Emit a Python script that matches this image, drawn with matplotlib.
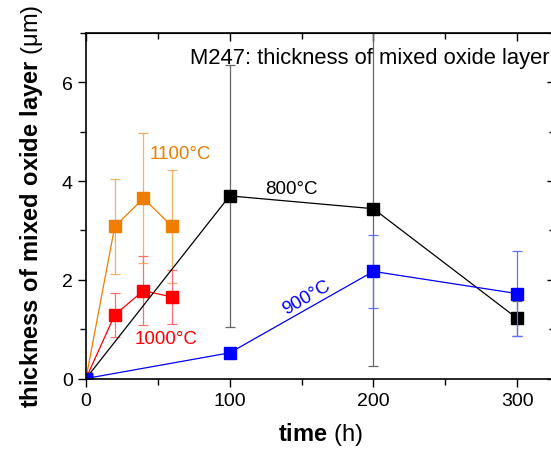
import matplotlib
matplotlib.use("Agg")
import matplotlib.pyplot as plt
from matplotlib.ticker import MultipleLocator

plt.rcParams['font.family'] = ['Liberation Sans', 'DejaVu Sans']
plt.rcParams['mathtext.fontset'] = 'custom'
plt.rcParams['mathtext.rm'] = 'Liberation Sans'
plt.rcParams['mathtext.bf'] = 'Liberation Sans:bold'

# data
t_800 = [0, 100, 200, 300]
y_800 = [0, 3.70, 3.44, 1.22]
err_800_lo = [0, 2.65, 3.18, 0.35]
err_800_hi = [0, 2.65, 3.70, 0.35]

t_900 = [0, 100, 200, 300]
y_900 = [0, 0.52, 2.17, 1.72]
err_900 = [0, 0.10, 0.74, 0.86]

t_1000 = [0, 20, 40, 60]
y_1000 = [0, 1.29, 1.78, 1.65]
err_1000 = [0, 0.44, 0.70, 0.54]

t_1100 = [0, 20, 40, 60]
y_1100 = [0, 3.08, 3.65, 3.08]
err_1100 = [0, 0.97, 1.32, 1.14]

fig = plt.figure(figsize=(5.51, 4.52), dpi=100)
ax = fig.add_axes([86/551, 72.5/452, 469/551, 345.5/452])

def serie(t, y, err, col, ecol):
    ax.errorbar(t, y, yerr=err, fmt='none', ecolor=ecol, elinewidth=0.9,
                capsize=3.5, capthick=0.9)
    ax.plot(t, y, '-', color=col, lw=0.9)
    ax.plot(t, y, 's', color=col, ms=8, mec=col)

serie(t_1100, y_1100, err_1100, '#EE7D00', '#F5B060')
serie(t_1000, y_1000, err_1000, '#FF0000', '#FF7070')
serie(t_800, y_800, [err_800_lo, err_800_hi], 'black', '#666666')
serie(t_900, y_900, err_900, '#0000FF', '#6070FF')

ax.text(44.5, 4.56, '1100°C', color='#EE7D00', fontsize=13.5, va='center')
ax.text(34.1, 0.82, '1000°C', color='#FF0000', fontsize=13.5, va='center')
ax.text(124.6, 3.85, '800°C', color='black', fontsize=13.5, va='center')
ax.text(153.8, 1.66, '900°C', color='#0000FF', fontsize=13.5, va='center',
        ha='center', rotation=30)
ax.text(72.4, 6.51, 'M247: thickness of mixed oxide layer', fontsize=15.8,
        va='center')

ax.set_xlim(0, 326.4)
ax.set_ylim(0, 7)
ax.xaxis.set_major_locator(MultipleLocator(100))
ax.xaxis.set_minor_locator(MultipleLocator(50))
ax.yaxis.set_major_locator(MultipleLocator(2))
ax.yaxis.set_minor_locator(MultipleLocator(1))
ax.tick_params(which='both', direction='out', top=False, right=False,
               labelsize=14, width=1)
ax.tick_params(which='major', length=6)
ax.tick_params(which='minor', length=4)
sec = ax.secondary_xaxis('top')
sec.xaxis.set_major_locator(MultipleLocator(100))
sec.xaxis.set_minor_locator(MultipleLocator(50))
sec.tick_params(which='both', direction='in', labeltop=False, width=1)
sec.tick_params(which='major', length=6)
sec.tick_params(which='minor', length=4)
secy = ax.secondary_yaxis('right')
secy.yaxis.set_major_locator(MultipleLocator(2))
secy.yaxis.set_minor_locator(MultipleLocator(1))
secy.tick_params(which='both', direction='in', labelright=False, width=1)
secy.tick_params(which='major', length=6)
secy.tick_params(which='minor', length=4)
for s in ax.spines.values():
    s.set_linewidth(1.2)

ax.set_xlabel(r'$\mathbf{time}$ (h)', fontsize=17, labelpad=8)
ax.set_ylabel(r'$\mathbf{thickness\ of\ mixed\ oxide\ layer}$ (μm)',
              fontsize=17, labelpad=12)

fig.savefig('out.png', dpi=100)
